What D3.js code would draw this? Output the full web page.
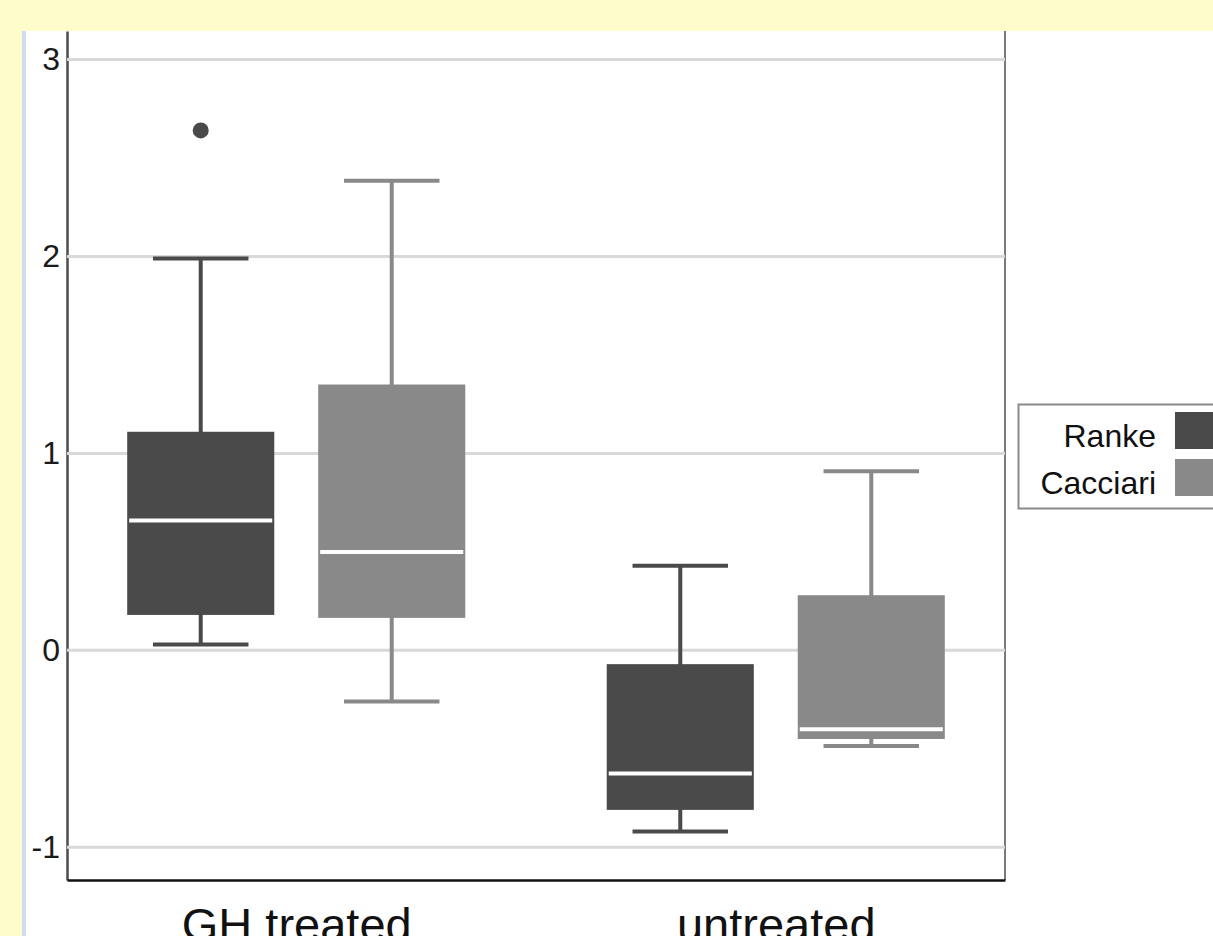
<!DOCTYPE html>
<html>
<head>
<meta charset="utf-8">
<script src="https://cdn.jsdelivr.net/npm/d3@7"></script>
<style>
  body { margin: 0; background: #fffccc; }
  svg { display: block; font-family: "Liberation Sans", Arial, sans-serif; }
</style>
</head>
<body>
<div id="chart"></div>
<script>
// groups on the x axis and the two series inside each group
const groups = ["GH treated", "untreated"];
const series = ["Ranke", "Cacciari"];
const colors = ["#4a4a4a", "#898989"];

// box stats, indexed [group][series]
const whiskerLow  = [[0.03, -0.26], [-0.92, -0.485]];
const q1          = [[0.18, 0.165], [-0.81, -0.45]];
const median      = [[0.66, 0.50], [-0.625, -0.40]];
const q3          = [[1.11, 1.35], [-0.07, 0.28]];
const whiskerHigh = [[1.99, 2.385], [0.43, 0.91]];

// outlying points
const outliers = [{ group: "GH treated", series: "Ranke", value: 2.64 }];

const yTicks = [-1, 0, 1, 2, 3];

const width = 1213, height = 936;

const svg = d3.select("#chart").append("svg")
    .attr("width", width)
    .attr("height", height);

// page background + white panel with the thin blue rule on its left
svg.append("rect").attr("width", width).attr("height", height).attr("fill", "#fffccc");
svg.append("rect").attr("x", 22).attr("y", 31).attr("width", width - 22).attr("height", height - 31).attr("fill", "#fff");
svg.append("rect").attr("x", 22).attr("y", 31).attr("width", 4).attr("height", height - 31).attr("fill", "#cfdcf1");

const pLeft = 67, pRight = 1005, pTop = 31, pBottom = 880;

const x = d3.scalePoint().domain(groups).range([pLeft, pRight]).padding(0.478);
const xs = d3.scaleBand().domain(series).range([-191, 191]);
const y = d3.scaleLinear().domain([-1.166, 3.145]).range([pBottom, pTop]);

// right border of the panel
svg.append("line")
    .attr("x1", pRight).attr("x2", pRight).attr("y1", pTop).attr("y2", pBottom)
    .attr("stroke", "#7a7a7a").attr("stroke-width", 2);

// y axis
const yAxis = svg.append("g")
    .attr("transform", `translate(${pLeft},0)`)
    .call(d3.axisLeft(y).tickValues(yTicks).tickSize(0).tickPadding(7).tickFormat(d => String(d)));
yAxis.select(".domain").attr("stroke", "#4d4d4d").attr("stroke-width", 2.5);
yAxis.selectAll("text").attr("font-size", 32).attr("fill", "#1a1a1a").attr("font-family", "Liberation Sans, Arial, sans-serif");

// x axis (labels sit low, clipped by the bottom edge as in the source)
const xAxis = svg.append("g")
    .attr("transform", `translate(0,${pBottom})`)
    .call(d3.axisBottom(x).tickSize(0));
xAxis.select(".domain").attr("stroke", "#111").attr("stroke-width", 2.5);
xAxis.selectAll("text")
    .attr("y", 61).attr("dy", 0)
    .attr("font-size", 47).attr("fill", "#111")
    .attr("font-family", "Liberation Sans, Arial, sans-serif");

// grid lines drawn over the axis lines
svg.append("g")
    .selectAll("line")
    .data(yTicks)
    .join("line")
    .attr("x1", pLeft).attr("x2", pRight)
    .attr("y1", d => y(d)).attr("y2", d => y(d))
    .attr("stroke", "#d9d9d9").attr("stroke-width", 3);

// flatten stats into one row per box
const boxes = [];
groups.forEach((g, gi) => {
    series.forEach((s, si) => {
        boxes.push({
            group: g, series: s, color: colors[si],
            low: whiskerLow[gi][si], q1: q1[gi][si], med: median[gi][si],
            q3: q3[gi][si], high: whiskerHigh[gi][si]
        });
    });
});

const boxW = xs.bandwidth() * 0.77;
const capW = xs.bandwidth() * 0.5;

const box = svg.append("g")
    .selectAll("g")
    .data(boxes)
    .join("g")
    .attr("transform", d => `translate(${x(d.group) + xs(d.series) + xs.bandwidth() / 2},0)`);

// whisker stem
box.append("line")
    .attr("x1", 0).attr("x2", 0)
    .attr("y1", d => y(d.low)).attr("y2", d => y(d.high))
    .attr("stroke", d => d.color).attr("stroke-width", 4);

// caps
box.selectAll(".cap")
    .data(d => [{ v: d.low, c: d.color }, { v: d.high, c: d.color }])
    .join("line")
    .attr("class", "cap")
    .attr("x1", -capW / 2).attr("x2", capW / 2)
    .attr("y1", d => y(d.v)).attr("y2", d => y(d.v))
    .attr("stroke", d => d.c).attr("stroke-width", 4);

// box
box.append("rect")
    .attr("x", -boxW / 2)
    .attr("width", boxW)
    .attr("y", d => y(d.q3))
    .attr("height", d => y(d.q1) - y(d.q3))
    .attr("fill", d => d.color);

// median
box.append("line")
    .attr("x1", -boxW / 2 + 2).attr("x2", boxW / 2 - 2)
    .attr("y1", d => y(d.med)).attr("y2", d => y(d.med))
    .attr("stroke", "#fff").attr("stroke-width", 4);

// outliers
svg.append("g")
    .selectAll("circle")
    .data(outliers)
    .join("circle")
    .attr("cx", d => x(d.group) + xs(d.series) + xs.bandwidth() / 2)
    .attr("cy", d => y(d.value))
    .attr("r", 8)
    .attr("fill", d => colors[series.indexOf(d.series)]);

// legend
const legend = svg.append("g").attr("transform", "translate(1018,404)");
legend.append("rect")
    .attr("x", 0.5).attr("y", 0.5)
    .attr("width", 260).attr("height", 104)
    .attr("fill", "#fff").attr("stroke", "#8a8a8a").attr("stroke-width", 2);

const item = legend.selectAll(".item")
    .data(series)
    .join("g")
    .attr("class", "item")
    .attr("transform", (d, i) => `translate(0,${8 + i * 47})`);

item.append("rect")
    .attr("x", 157).attr("width", 60).attr("height", 37)
    .attr("fill", (d, i) => colors[i]);

item.append("text")
    .attr("x", 138).attr("y", 35)
    .attr("text-anchor", "end")
    .attr("font-size", 32)
    .attr("fill", "#111")
    .text(d => d);
</script>
</body>
</html>
